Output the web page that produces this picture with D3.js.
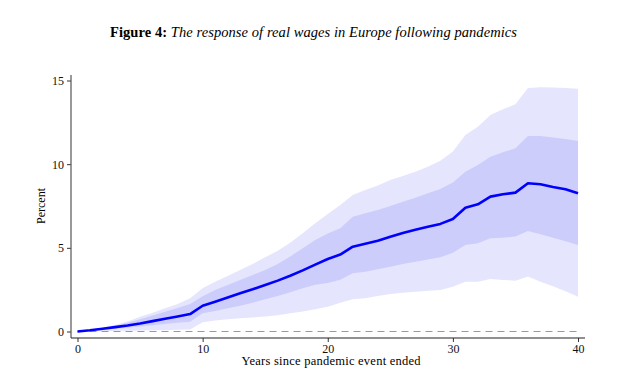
<!DOCTYPE html>
<html><head><meta charset="utf-8">
<script src="https://cdn.jsdelivr.net/npm/d3@7"></script>
<style>body{margin:0;background:#fff}svg{display:block}</style>
</head><body>
<script>
const years = d3.range(0, 41);
const meanVals = [0,0.07,0.16,0.26,0.36,0.48,0.62,0.76,0.9,1.04,1.54,1.78,2.03,2.28,2.52,2.78,3.04,3.33,3.65,4.0,4.33,4.6,5.07,5.25,5.42,5.66,5.88,6.08,6.26,6.43,6.72,7.4,7.6,8.06,8.2,8.3,8.86,8.8,8.64,8.5,8.26];
const hi90 = [0,0.1,0.22,0.39,0.6,0.88,1.12,1.39,1.65,1.98,2.58,2.98,3.32,3.68,4.03,4.43,4.83,5.31,5.87,6.47,7.02,7.56,8.16,8.46,8.72,9.06,9.29,9.55,9.85,10.21,10.75,11.75,12.24,12.94,13.28,13.58,14.55,14.6,14.58,14.55,14.5];
const hi68 = [0,0.09,0.19,0.35,0.53,0.73,0.95,1.18,1.4,1.64,2.1,2.48,2.78,3.08,3.38,3.68,4.03,4.48,4.97,5.47,5.85,6.17,6.86,7.07,7.26,7.5,7.76,8.0,8.26,8.52,8.9,9.55,9.95,10.45,10.71,10.95,11.69,11.69,11.6,11.5,11.39];
const lo68 = [0,0.05,0.1,0.15,0.22,0.3,0.38,0.45,0.52,0.59,1.09,1.23,1.39,1.54,1.72,1.92,2.12,2.34,2.58,2.8,2.9,3.1,3.48,3.57,3.72,3.87,4.03,4.17,4.31,4.43,4.7,5.17,5.27,5.57,5.61,5.67,6.01,5.81,5.6,5.4,5.17];
const lo90 = [0,0.02,0.03,0.04,0.05,0.06,0.07,0.08,0.1,0.12,0.55,0.66,0.73,0.79,0.84,0.89,0.97,1.09,1.2,1.33,1.48,1.72,1.92,1.98,2.12,2.24,2.32,2.38,2.44,2.48,2.68,2.98,2.98,3.14,3.08,3.04,3.28,2.98,2.7,2.4,2.08];
const xTicks = [0,10,20,30,40];
const yTicks = [0,5,10,15];

const W = 624, H = 380;
const svg = d3.select("body").append("svg").attr("width", W).attr("height", H);
const x = d3.scaleLinear().domain([0,40]).range([77.5,578]);
const y = d3.scaleLinear().domain([0,15]).range([331.5,80.5]);
const font = "'Liberation Serif','DejaVu Serif',serif";

// title
const t = svg.append("text").attr("x", 110).attr("y", 37)
  .attr("textLength", 407).attr("lengthAdjust","spacing")
  .style("font-family", font).style("font-size","14.5px").attr("fill","#000");
t.append("tspan").attr("font-weight","bold").text("Figure 4: ");
t.append("tspan").attr("font-style","italic").text("The response of real wages in Europe following pandemics");

const data = years.map((yr,i)=>({yr, m:meanVals[i], h9:hi90[i], h6:hi68[i], l6:lo68[i], l9:lo90[i]}));

svg.append("path").datum(data).attr("fill","#e5e5fd")
  .attr("d", d3.area().x(d=>x(d.yr)).y0(d=>y(d.l9)).y1(d=>y(d.h9)));
svg.append("path").datum(data).attr("fill","#cdcdfb")
  .attr("d", d3.area().x(d=>x(d.yr)).y0(d=>y(d.l6)).y1(d=>y(d.h6)));

// zero dashed line
svg.append("line").attr("x1", x(0)).attr("x2", x(40)).attr("y1", y(0)).attr("y2", y(0))
  .attr("stroke","#999").attr("stroke-width",1.2).attr("stroke-dasharray","7,5");

svg.append("path").datum(data).attr("fill","none").attr("stroke","#0000ff").attr("stroke-width",2.6)
  .attr("stroke-linejoin","round")
  .attr("d", d3.line().x(d=>x(d.yr)).y(d=>y(d.m)));

// axes
const yAxis = svg.append("g").attr("transform","translate(71,0)")
  .call(d3.axisLeft(y).tickValues(yTicks).tickSize(4).tickPadding(3).tickFormat(d3.format("d")));
yAxis.select(".domain").remove();
yAxis.append("line").attr("x1",0).attr("x2",0).attr("y1",75).attr("y2",338).attr("stroke","#555").attr("stroke-width",1.2);
yAxis.selectAll(".tick line").attr("stroke","#333");

const xAxis = svg.append("g").attr("transform","translate(0,338)")
  .call(d3.axisBottom(x).tickValues(xTicks).tickSize(4).tickPadding(2).tickFormat(d3.format("d")));
xAxis.select(".domain").remove();
xAxis.append("line").attr("x1",71).attr("x2",585).attr("y1",0).attr("y2",0).attr("stroke","#222").attr("stroke-width",1.2);
xAxis.selectAll(".tick line").attr("stroke","#333");

svg.selectAll(".tick text").style("font-family", font).style("font-size","12px").attr("fill","#111");

svg.append("text").attr("x", 241.5).attr("y", 365)
  .attr("textLength", 179).attr("lengthAdjust","spacing")
  .style("font-family", font).style("font-size","12.5px").text("Years since pandemic event ended");
svg.append("text").attr("transform","translate(45,206) rotate(-90)").attr("text-anchor","middle")
  .style("font-family", font).style("font-size","12px").text("Percent");
</script>
</body></html>
